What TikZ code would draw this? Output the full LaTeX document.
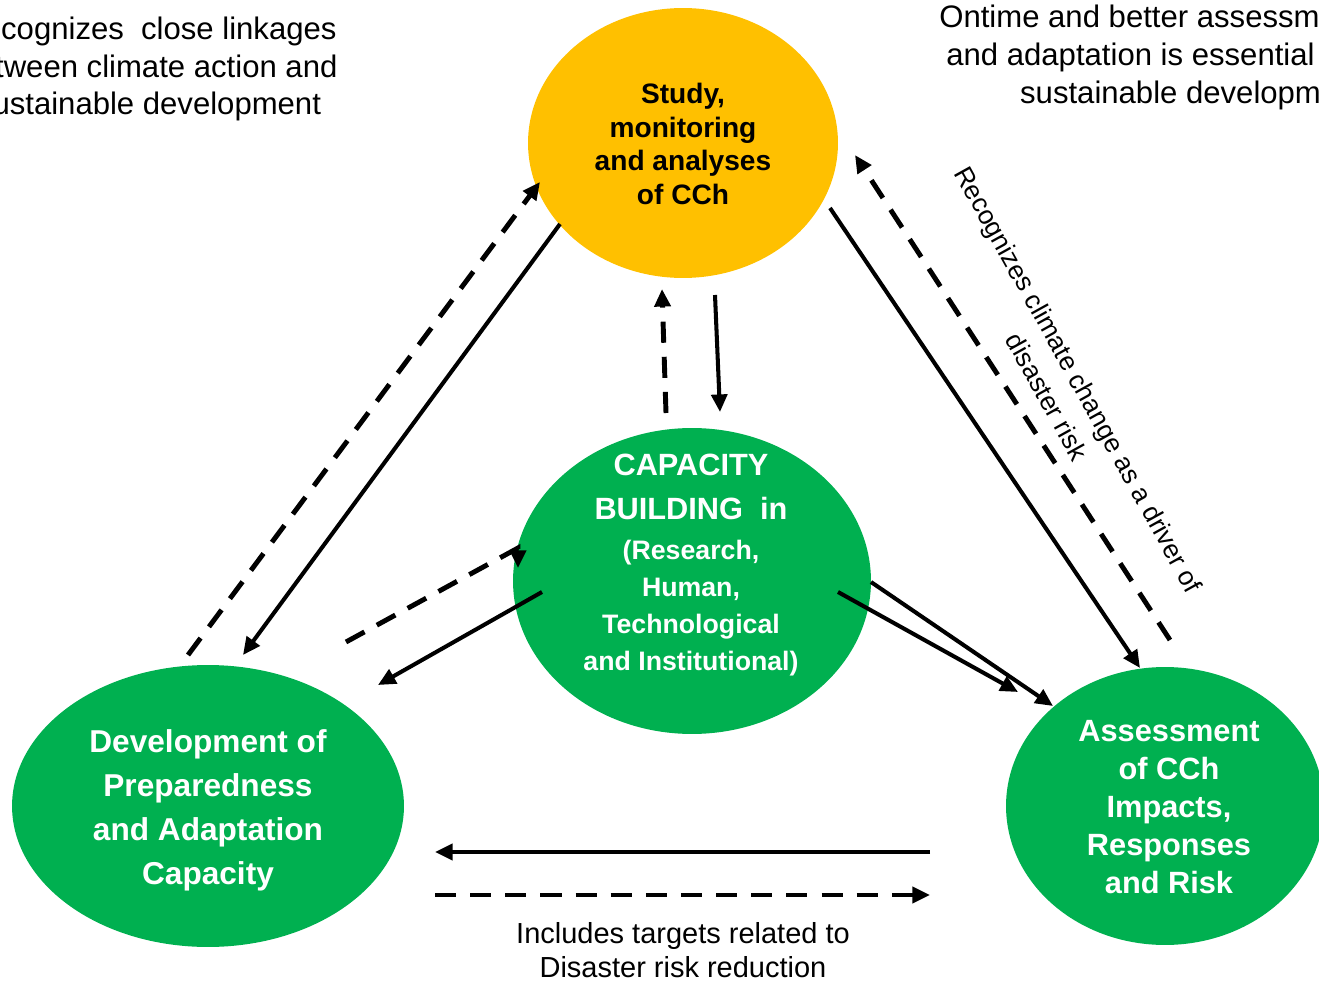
\documentclass[tikz,border=0pt]{standalone}
\usepackage{fontspec}
\setmainfont{Liberation Sans}
\usetikzlibrary{calc,shapes.geometric,arrows.meta}
\definecolor{ccyellow}{HTML}{FFC000}
\definecolor{ccgreen}{HTML}{00B050}

\begin{document}
\begin{tikzpicture}[x=0.02cm,y=-0.02cm,
        blob/.style={ellipse, inner sep=0pt, outer sep=0pt},
        yellow blob/.style={blob, fill=ccyellow},
        green blob/.style={blob, fill=ccgreen},
        blob text/.style={align=center, inner sep=0pt},
        note text/.style={align=center, inner sep=0pt, font=\fontsize{17.7}{21.5}\selectfont},
        solid arrow/.style={line width=2.3pt, -{Triangle[length=10pt,width=9pt]}},
        dashed arrow/.style={solid arrow, line width=2.8pt, dash pattern=on 12pt off 8pt}]
        \useasboundingbox (0,0) rectangle (1319,983);

        % the four blobs
        \node[yellow blob, minimum width=6.2cm,  minimum height=5.4cm ] (study)    at (683,143)  {};
        \node[green blob,  minimum width=7.16cm, minimum height=6.12cm] (capacity) at (692,581)  {};
        \node[green blob,  minimum width=7.84cm, minimum height=5.64cm] (prep)     at (208,806)  {};
        \node[green blob,  minimum width=6.36cm, minimum height=5.56cm] (assess)   at (1165,806) {};

        \node[blob text, font=\bfseries\fontsize{16}{19}\selectfont] (study text) at (683,144)
          {Study,\\monitoring\\and analyses\\of CCh};
        \node[blob text, text=white, font=\bfseries\fontsize{15.2}{21}\selectfont] (capacity text) at (691,565)
          {{\fontsize{17.5}{25}\selectfont CAPACITY}\\[4pt]{\fontsize{17.5}{25}\selectfont BUILDING\ \ in}\\[2pt]
           (Research,\\Human,\\Technological\\and Institutional)};
        \node[blob text, text=white, font=\bfseries\fontsize{18}{25}\selectfont] (prep text) at (208,810)
          {Development of\\Preparedness\\and Adaptation\\Capacity};
        \node[blob text, text=white, font=\bfseries\fontsize{17.5}{21.6}\selectfont] (assess text) at (1169,807)
          {Assessment\\of CCh\\Impacts,\\Responses\\and Risk};

        % side notes
        \node[note text] (linkages) at (149,69)
          {Recognizes\ \ close linkages\\between climate action and\\sustainable development};
        \node[note text, align=left, anchor=north west] (ontime) at (939,5)
          {Ontime and better assessment\\\hspace*{4pt}and adaptation is essential\\\hspace*{46pt}sustainable development};
        \node[note text, font=\fontsize{15}{20.5}\selectfont, rotate=-61] (driver) at (1063,388)
          {Recognizes climate change as a driver of\\disaster risk};
        \node[note text, font=\fontsize{16.5}{19.5}\selectfont] (targets) at (683,950)
          {Includes targets related to\\Disaster risk reduction};

        % study <-> preparedness
        \draw[dashed arrow] ($(prep)+(-20,-151)$) -- ($(study)+(-143,39)$);
        \draw[solid arrow ] ($(study)+(-123,81)$) -- ($(prep)+(35,-151)$);
        % study <-> capacity building
        \draw[dashed arrow] ($(capacity)+(-26,-168)$) -- ($(study)+(-21,146)$);
        \draw[solid arrow ] ($(study)+(32,152)$) -- ($(capacity)+(28,-169)$);
        % study <-> assessment
        \draw[dashed arrow] ($(assess)+(5,-166)$) -- ($(study)+(172,12)$);
        \draw[solid arrow ] ($(study)+(147,65)$) -- ($(assess)+(-25,-138)$);
        % capacity building <-> preparedness
        \draw[dashed arrow] ($(prep)+(138,-164)$) -- ($(capacity)+(-174,-33)$) -- ($(capacity)+(-174,-13)$);
        \draw[solid arrow ] ($(capacity)+(-150,11)$) -- ($(prep)+(170,-121)$);
        % capacity building -> assessment
        \draw[solid arrow ] ($(capacity)+(146,11)$) -- ($(assess)+(-147,-114)$);
        \draw[solid arrow ] ($(capacity)+(179,1)$) -- ($(assess)+(-112,-100)$);
        % preparedness <-> assessment
        \draw[solid arrow ] ($(assess)+(-235,46)$) -- ($(prep)+(227,46)$);
        \draw[dashed arrow] ($(prep)+(227,89)$) -- ($(assess)+(-235,89)$);
      \end{tikzpicture}
\end{document}
